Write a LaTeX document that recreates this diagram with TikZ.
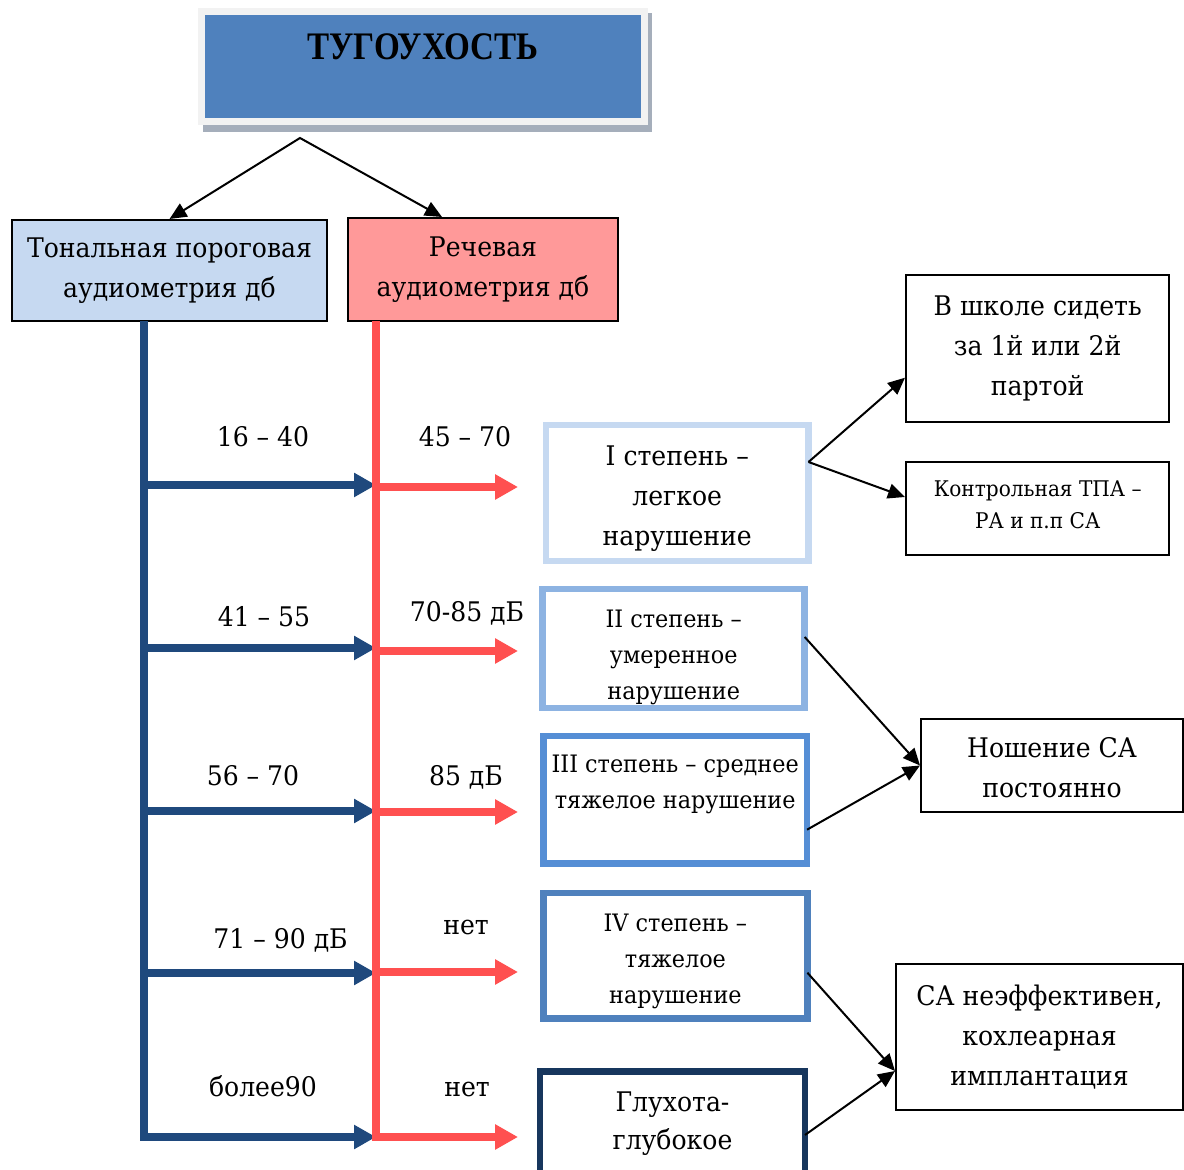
\documentclass[tikz,border=0pt]{standalone}
\usepackage{fontspec}
\setmainfont{DejaVu Serif}[FakeStretch=0.93]
\newfontfamily\titlefont{Liberation Serif}[FakeStretch=0.85]
\usepackage{tikz}
\usetikzlibrary{arrows.meta,positioning}
\definecolor{headblue}{HTML}{4F81BD}
\definecolor{headframe}{HTML}{F2F2F2}
\definecolor{headshadow}{HTML}{A5AEBB}
\definecolor{tpafill}{HTML}{C6D9F1}
\definecolor{rafill}{HTML}{FF9999}
\definecolor{tpablue}{HTML}{1F497D}
\definecolor{rared}{HTML}{FF5050}
\definecolor{degA}{HTML}{C6D9F1}
\definecolor{degB}{HTML}{8DB3E2}
\definecolor{degC}{HTML}{558ED5}
\definecolor{degD}{HTML}{4F81BD}
\definecolor{degE}{HTML}{17365D}
\tikzset{head node/.style={rectangle,fill=headblue,draw=headframe,line width=3.5pt,minimum width=221.5pt,minimum height=55pt,inner sep=0pt},
         test node/.style={rectangle,draw,line width=1pt,align=center,inner sep=0pt,font=\fontsize{13.5}{20}\selectfont},
         degree node/.style={rectangle,draw,line width=3.3pt,fill=white,align=center,inner sep=0pt,outer sep=0pt},
         advice node/.style={rectangle,draw,line width=1pt,align=center,inner sep=0pt,font=\fontsize{13.5}{20}\selectfont},
         range label/.style={rectangle,draw=none,fill=none,inner sep=0pt,anchor=base,font=\fontsize{13.5}{15}\selectfont},
         tpa line/.style={draw=tpablue,line width=3.6pt,-{Triangle[length=11pt,width=11.5pt]}},
         ra line/.style={draw=rared,line width=3.6pt,-{Triangle[length=11.5pt,width=12pt]}},
         link/.style={line width=1pt}
}

\begin{document}
\begin{tikzpicture}[x=0.5pt,y=-0.5pt,>={Triangle[length=8.5pt,width=7.5pt]}]
\path[use as bounding box] (0,0) rectangle (1184,1170);
\clip (0,0) rectangle (1184,1170);
\fill[headshadow] (203,13) rectangle (652,132);
\node[head node] (head) at (423,66.5) {};
\node[anchor=base,inner sep=0pt,font=\titlefont\fontsize{19.5}{22}\selectfont\bfseries] (headtext) at (423,60) {ТУГОУХОСТЬ};
\coordinate (fork) at (300,138);

\node[test node,fill=tpafill,minimum width=157.5pt,minimum height=50.5pt] (tpa) at (169.5,270.5) {Тональная пороговая\\аудиометрия дб};
\node[test node,fill=rafill,minimum width=135pt,minimum height=51.5pt] (ra) at (483,269.5) {Речевая\\аудиометрия дб};
\draw[link,<->] (tpa.north) -- (fork) -- ([xshift=-20.5pt]ra.north);

% grades
\node[degree node,draw=degA,minimum width=131.25pt,minimum height=68pt,font=\fontsize{13.5}{20}\selectfont] (d1) at (677.25,493) {\rule{0pt}{15.8pt}I степень –\\легкое\\нарушение};
\node[degree node,draw=degB,minimum width=131pt,minimum height=59.5pt,font=\fontsize{12}{18}\selectfont] (d2) at (673.7,648.5) {\rule{0pt}{17.7pt}II степень –\\умеренное\\нарушение};
\node[degree node,draw=degC,minimum width=131.85pt,minimum height=63.7pt,font=\fontsize{12}{18}\selectfont] (d3) at (675.2,799.7) {III степень – среднее\\тяжелое нарушение\\\mbox{}};
\node[degree node,draw=degD,minimum width=132pt,minimum height=62.7pt,font=\fontsize{12}{18}\selectfont] (d4) at (675.4,955.7) {\rule{0pt}{14.7pt}IV степень –\\тяжелое\\нарушение};
\node[degree node,draw=degE,minimum width=132.5pt,minimum height=52.3pt,font=\fontsize{13.5}{19}\selectfont] (d5) at (672.5,1124) {Глухота-\\глубокое};

% advice
\node[advice node,minimum width=131.7pt,minimum height=73.7pt] (sit) at (1037.7,348.7) {В школе сидеть\\за 1й или 2й\\партой};
\node[advice node,minimum width=131.7pt,minimum height=46.5pt,font=\fontsize{10.8}{16}\selectfont] (ctrl) at (1037.7,508.5) {Контрольная ТПА –\\РА и п.п СА\rule[-4pt]{0pt}{4pt}};
\node[advice node,minimum width=131pt,minimum height=46.5pt] (wear) at (1052,765.5) {\rule{0pt}{11.8pt}Ношение СА\\постоянно};
\node[advice node,minimum width=143.5pt,minimum height=73pt] (impl) at (1039.5,1037) {СА неэффективен,\\кохлеарная\\имплантация};

\draw[link,->] ([yshift=15.5pt]d1.east) -- ([yshift=-14.5pt]sit.west);
\draw[link,->] ([yshift=15.5pt]d1.east) -- ([yshift=5.75pt]ctrl.west);
\draw[link,->] ([yshift=5.75pt]d2.east) -- (wear.west);
\draw[link,->] ([yshift=-15pt]d3.east) -- (wear.west);
\draw[link,->] ([yshift=-8.5pt]d4.east) -- ([yshift=-17pt]impl.west);
\draw[link,->] ([yshift=-5.5pt]d5.east) -- ([yshift=-17pt]impl.west);

% audiometry lines
\coordinate (tpatop) at (144,321);
\coordinate (ratop) at (376,321);
\coordinate (tipx) at (518,321);
\coordinate (b1) at (144,485);
\coordinate (b2) at (144,648);
\coordinate (b3) at (144,811);
\coordinate (b4) at (144,973);
\coordinate (b5) at (144,1137);
\coordinate (r1) at (376,487);
\coordinate (r2) at (376,651);
\coordinate (r3) at (376,812);
\coordinate (r4) at (376,972);
\coordinate (r5) at (376,1137);
\draw[tpa line] (b1) -- (b1 -| ratop);
\draw[tpa line] (b2) -- (b2 -| ratop);
\draw[tpa line] (b3) -- (b3 -| ratop);
\draw[tpa line] (b4) -- (b4 -| ratop);
\draw[tpa line] (tpatop) -- (b5) -- (b5 -| ratop);
\draw[ra line] (r1) -- (r1 -| tipx);
\draw[ra line] (r2) -- (r2 -| tipx);
\draw[ra line] (r3) -- (r3 -| tipx);
\draw[ra line] (r4) -- (r4 -| tipx);
\draw[ra line] (ratop) -- (r5) -- (r5 -| tipx);

\node[range label] (t1) at (263,447) {16 – 40};
\node[range label] (s1) at (465,447) {45 – 70};
\node[range label] (t2) at (264,627) {41 – 55};
\node[range label] (s2) at (467,622) {70-85 дБ};
\node[range label] (t3) at (253,785) {56 – 70};
\node[range label] (s3) at (466,785) {85 дБ};
\node[range label,anchor=base west] (t4) at (213,948) {71 – 90 дБ};
\node[range label] (s4) at (466,934) {нет};
\node[range label] (t5) at (263,1096) {более90};
\node[range label] (s5) at (467,1096) {нет};
\end{tikzpicture}
\end{document}
